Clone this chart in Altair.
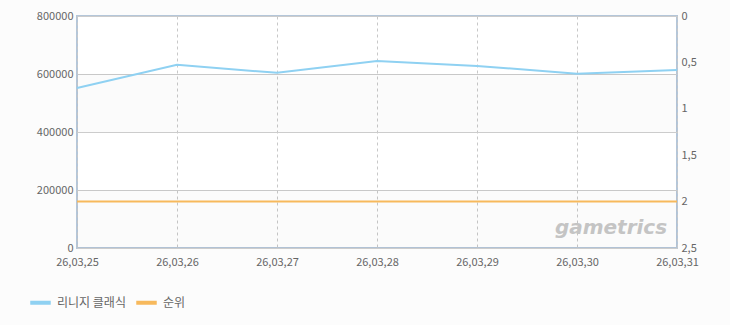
import altair as alt
import pandas as pd

dates = ["26,03,25", "26,03,26", "26,03,27", "26,03,28", "26,03,29", "26,03,30", "26,03,31"]
users = [552000, 632000, 604000, 645000, 628000, 601000, 614000]
ranks = [2, 2, 2, 2, 2, 2, 2]
series = ["리니지 클래식", "순위"]
left_ticks = [0, 200000, 400000, 600000, 800000]
right_ticks = [0, 0.5, 1, 1.5, 2, 2.5]
band_lo = [0, 400000]
band_hi = [200000, 600000]

FONT = "Noto Sans CJK KR"
TXT = "#666666"

df_users = pd.DataFrame({"date": dates, "value": users, "series": series[0]})
df_rank = pd.DataFrame({"date": dates, "rank": ranks, "series": series[1]})
df_band = pd.DataFrame({"lo": band_lo, "hi": band_hi})

xscale = alt.Scale(type="point", padding=0, domain=dates)
color_scale = alt.Scale(domain=series, range=["#8fd1f2", "#f7b95c"])
left_scale = alt.Scale(domain=[0, 800000], nice=False)
left_axis = alt.Axis(orient="left", values=left_ticks, format="d", grid=True,
                     gridColor="#cccccc", ticks=False, domain=False, labelPadding=4,
                     labelFontSize=11, labelColor=TXT, labelFont=FONT)

bands = alt.Chart(df_band).mark_rect(color="#000000", opacity=0.015).encode(
    y=alt.Y("lo:Q", scale=left_scale, axis=left_axis, title=None),
    y2="hi:Q",
)

users_line = alt.Chart(df_users).mark_line(strokeWidth=2).encode(
    x=alt.X("date:N", scale=xscale, sort=dates, title=None,
            axis=alt.Axis(labelAngle=0, grid=True, gridDash=[3, 3], gridColor="#c8c8c8",
                          ticks=False, domain=False, labelPadding=8,
                          labelFontSize=11, labelColor=TXT, labelFont=FONT)),
    y=alt.Y("value:Q", scale=left_scale, title=None, axis=left_axis),
    color=alt.Color("series:N", scale=color_scale, title=None,
                    legend=alt.Legend(orient="none", legendX=-49, legendY=274,
                                      direction="horizontal", symbolType="stroke",
                                      symbolStrokeWidth=4, symbolSize=420,
                                      labelFontSize=12, labelColor=TXT, labelFont=FONT,
                                      columnPadding=2, symbolOffset=0)),
)

left = alt.layer(bands, users_line)

rank_line = alt.Chart(df_rank).mark_line(strokeWidth=2).encode(
    x=alt.X("date:N", scale=xscale, sort=dates, title=None),
    y=alt.Y("rank:Q", scale=alt.Scale(domain=[0, 2.5], reverse=True, nice=False), title=None,
            axis=alt.Axis(orient="right", values=right_ticks, format=".2~f", grid=False,
                          ticks=False, domain=False, labelPadding=4, labelFontSize=11,
                          labelColor=TXT, labelFont=FONT,
                          labelExpr="replace(datum.label, '.', ',')")),
    color=alt.Color("series:N", scale=color_scale, title=None),
)

watermark = alt.Chart(pd.DataFrame({"t": ["gametrics"]})).mark_text(
    fontSize=20, fontStyle="italic", fontWeight="bold", color="#c4c4c4",
    font="DejaVu Sans", align="center", baseline="middle"
).encode(text="t:N", x=alt.value(534), y=alt.value(212))

chart = alt.layer(left, rank_line, watermark).resolve_scale(y="independent").properties(
    width=600, height=232, background="#fcfcfc",
    autosize=alt.AutoSizeParams(type="none"),
    padding={"left": 77, "top": 16, "right": 53, "bottom": 77},
).configure_view(stroke="#b4c6d9", strokeWidth=2, fill="white")

chart.save("out.html", embed_options={"renderer": "svg", "actions": False})
